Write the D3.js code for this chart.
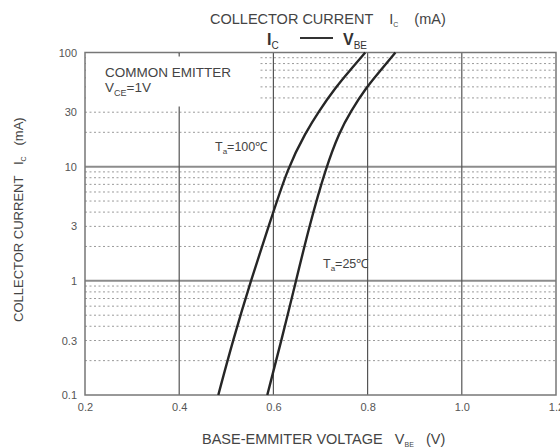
<!DOCTYPE html>
<html>
<head>
<meta charset="utf-8">
<title>Ic - Vbe</title>
<script src="https://d3js.org/d3.v7.min.js"></script>
<style>
  html, body { margin: 0; padding: 0; background: #fff; }
  text { font-family: "Liberation Sans", Arial, sans-serif; fill: #444; white-space: pre; }
  .tick text { font-size: 11px; fill: #555; }
  .axis path { display: none; }
  .curve { fill: none; stroke: #262626; stroke-width: 2.4px; }
</style>
</head>
<body>
<script>
// data
var currents = [0.1, 0.3, 1, 3, 10, 20, 30, 50, 70, 100];                    // mA
var vbe100 = [0.483, 0.514, 0.552, 0.590, 0.631, 0.669, 0.695, 0.733, 0.763, 0.795]; // Ta=100
var vbe25  = [0.587, 0.617, 0.648, 0.676, 0.712, 0.740, 0.763, 0.798, 0.828, 0.859]; // Ta=25
var xTicks = [0.2, 0.4, 0.6, 0.8, 1.0, 1.2];
var yTicks = [0.1, 0.3, 1, 3, 10, 30, 100];
var xGrid = [0.4, 0.6, 0.8, 1.0];
var yDecades = [1, 10];

var W = 560, H = 447;
var svg = d3.select("body").append("svg").attr("width", W).attr("height", H);

var x = d3.scaleLinear().domain([0.2, 1.2]).range([85, 556]);
var y = d3.scaleLog().domain([0.1, 100]).range([395, 52.5]);

// minor dotted lines
var minors = [];
[0.1, 1, 10].forEach(function (d) {
  for (var k = 2; k <= 9; k++) minors.push(d * k);
});
svg.append("g").selectAll("line").data(minors).enter().append("line")
  .attr("x1", x(0.2)).attr("x2", x(1.2))
  .attr("y1", function (d) { return y(d); }).attr("y2", function (d) { return y(d); })
  .style("stroke", "#9a9a9a").style("stroke-width", 1).style("stroke-dasharray", "2,2.5");

// decade lines
svg.append("g").selectAll("line").data(yDecades).enter().append("line")
  .attr("x1", x(0.2)).attr("x2", x(1.2))
  .attr("y1", function (d) { return y(d); }).attr("y2", function (d) { return y(d); })
  .style("stroke", "#8c8c8c").style("stroke-width", 2);

// vertical grid
svg.append("g").selectAll("line").data(xGrid).enter().append("line")
  .attr("x1", function (d) { return x(d); }).attr("x2", function (d) { return x(d); })
  .attr("y1", y(0.1)).attr("y2", y(100))
  .style("stroke", "#555").style("stroke-width", 1.2);

// white box behind the note
svg.append("rect").attr("x", x(0.2) + 1).attr("y", y(100) + 1)
  .attr("width", 174).attr("height", 53).style("fill", "#fff");
svg.append("line").attr("x1", x(0.4)).attr("x2", x(0.4))
  .attr("y1", y(100)).attr("y2", y(100) + 4).style("stroke", "#555").style("stroke-width", 1.2);

// frame
svg.append("rect").attr("x", x(0.2)).attr("y", y(100))
  .attr("width", x(1.2) - x(0.2)).attr("height", y(0.1) - y(100))
  .style("fill", "none").style("stroke", "#777").style("stroke-width", 1.5);

// curves
var line = d3.line()
  .x(function (d) { return x(d.v); })
  .y(function (d) { return y(d.i); })
  .curve(d3.curveBasis);
[vbe100, vbe25].forEach(function (s) {
  var pts = currents.map(function (c, j) { return { i: c, v: s[j] }; });
  svg.append("path").attr("class", "curve").attr("d", line(pts));
});

// axes
svg.append("g").attr("class", "axis")
  .attr("transform", "translate(" + (x(0.2) - 5) + ",0)")
  .call(d3.axisLeft(y).tickValues(yTicks).tickSize(0).tickFormat(function (d) { return String(d); }))
  .selectAll("text").attr("dy", "0.32em");
svg.append("g").attr("class", "axis")
  .attr("transform", "translate(0," + (y(0.1) + 5) + ")")
  .call(d3.axisBottom(x).tickValues(xTicks).tickSize(0).tickFormat(d3.format(".1f")));

// titles
var t1 = svg.append("text").attr("x", 210).attr("y", 24).style("font-size", "14.5px");
t1.append("tspan").text("COLLECTOR CURRENT    I");
t1.append("tspan").attr("dy", 3).style("font-size", "7px").text("C");
t1.append("tspan").attr("dy", -3).text("    (mA)");

var t2 = svg.append("text").attr("x", 267).attr("y", 45)
  .style("font-size", "16px").style("font-weight", "bold").style("fill", "#333");
t2.append("tspan").text("I");
t2.append("tspan").attr("dy", 4).style("font-size", "10px").style("font-weight", "normal").text("C");
svg.append("line").attr("x1", 300).attr("x2", 333).attr("y1", 38).attr("y2", 38)
  .style("stroke", "#333").style("stroke-width", 2);
var t3 = svg.append("text").attr("x", 343).attr("y", 45)
  .style("font-size", "16px").style("font-weight", "bold").style("fill", "#333");
t3.append("tspan").text("V");
t3.append("tspan").attr("dy", 4).style("font-size", "10px").style("font-weight", "normal").text("BE");

var xl = svg.append("text").attr("x", 202).attr("y", 444).style("font-size", "14.5px");
xl.append("tspan").text("BASE-EMMITER VOLTAGE   V");
xl.append("tspan").attr("dy", 3).style("font-size", "7px").text("BE");
xl.append("tspan").attr("dy", -3).text("   (V)");

var yl = svg.append("text").attr("transform", "translate(23,322) rotate(-90)").style("font-size", "13px");
yl.append("tspan").text("COLLECTOR CURRENT   I");
yl.append("tspan").attr("dy", 3).style("font-size", "7px").text("C");
yl.append("tspan").attr("dy", -3).text("   (mA)");

// notes
svg.append("text").attr("x", 105).attr("y", 77).style("font-size", "13.5px").text("COMMON EMITTER");
var n2 = svg.append("text").attr("x", 105).attr("y", 92).style("font-size", "13.5px");
n2.append("tspan").text("V");
n2.append("tspan").attr("dy", 4).style("font-size", "9px").text("CE");
n2.append("tspan").attr("dy", -4).text("=1V");

var a1 = svg.append("text").attr("x", 215).attr("y", 151).style("font-size", "12.5px");
a1.append("tspan").text("T");
a1.append("tspan").attr("dy", 3).style("font-size", "8px").text("a");
a1.append("tspan").attr("dy", -3).text("=100\u2103");

var a2 = svg.append("text").attr("x", 323).attr("y", 268).style("font-size", "12.5px");
a2.append("tspan").text("T");
a2.append("tspan").attr("dy", 3).style("font-size", "8px").text("a");
a2.append("tspan").attr("dy", -3).text("=25\u2103");
</script>
</body>
</html>
